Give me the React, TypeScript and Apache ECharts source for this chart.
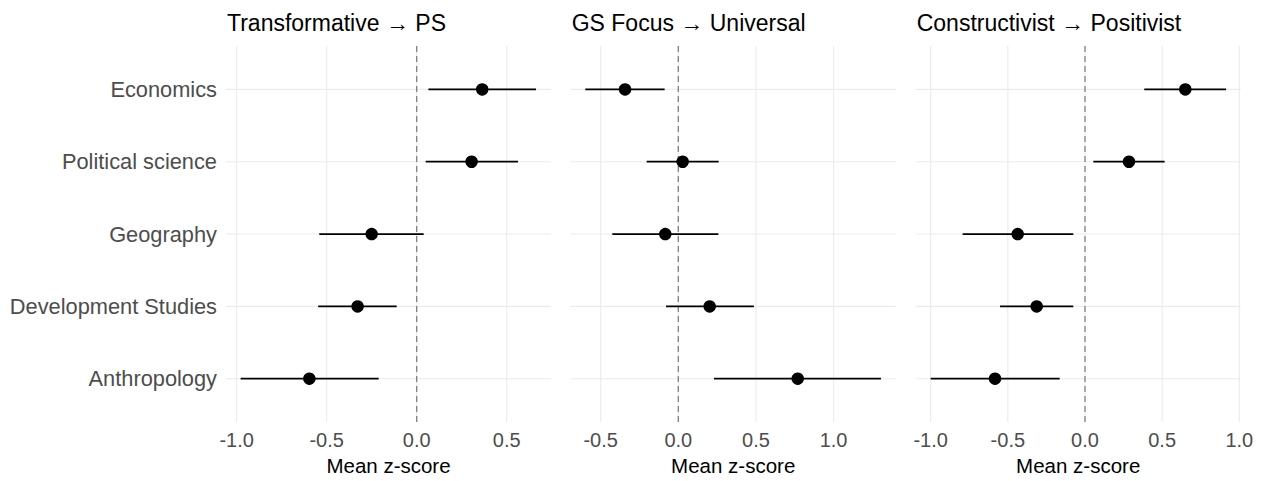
import React, { useEffect, useRef } from "react";
import * as echarts from "echarts";

const categories = ["Economics", "Political science", "Geography", "Development Studies", "Anthropology"];
const panelTitles = ["Transformative → PS", "GS Focus → Universal", "Constructivist → Positivist"];

const p1Mean = [0.364, 0.305, -0.25, -0.328, -0.596];
const p1Lo = [0.065, 0.05, -0.541, -0.547, -0.978];
const p1Hi = [0.663, 0.563, 0.039, -0.111, -0.211];

const p2Mean = [-0.343, 0.028, -0.084, 0.202, 0.769];
const p2Lo = [-0.599, -0.204, -0.425, -0.079, 0.23];
const p2Hi = [-0.088, 0.26, 0.258, 0.487, 1.305];

const p3Mean = [0.65, 0.285, -0.436, -0.313, -0.583];
const p3Lo = [0.384, 0.054, -0.793, -0.551, -1.0];
const p3Hi = [0.914, 0.516, -0.076, -0.076, -0.164];

const p1Ticks = [-1, -0.5, 0, 0.5];
const p2Ticks = [-0.5, 0, 0.5, 1];
const p3Ticks = [-1, -0.5, 0, 0.5, 1];

const xTitle = "Mean z-score";

const FONT = "Liberation Sans, Arial, Helvetica, sans-serif";

const panels = [
  { mean: p1Mean, lo: p1Lo, hi: p1Hi, ticks: p1Ticks, min: -1.059, max: 0.746, left: 226 },
  { mean: p2Mean, lo: p2Lo, hi: p2Hi, ticks: p2Ticks, min: -0.693, max: 1.4, left: 570.7 },
  { mean: p3Mean, lo: p3Lo, hi: p3Hi, ticks: p3Ticks, min: -1.097, max: 1.009, left: 915.7 },
];

export default function App() {
  const ref = useRef<HTMLDivElement>(null);
  useEffect(() => {
    if (!ref.current) return;
    const chart = echarts.init(ref.current, null, { renderer: "svg" });
    const grids: any[] = [];
    const xAxes: any[] = [];
    const yAxes: any[] = [];
    const series: any[] = [];
    const titles: any[] = [];
    const catIdx = categories.map((_, i) => i + 1);

    panels.forEach((p, k) => {
      grids.push({ left: p.left, width: 325, top: 46, height: 380 });
      titles.push({
        text: panelTitles[k],
        left: p.left + 1,
        top: 11,
        textStyle: { fontFamily: FONT, fontSize: 23, fontWeight: "normal", color: "#000" },
        padding: 0,
      });
      xAxes.push({
        type: "value",
        gridIndex: k,
        min: p.min,
        max: p.max,
        axisLine: { show: false },
        axisTick: { show: false },
        splitLine: { show: false },
        axisLabel: {
          customValues: p.ticks,
          formatter: (v: number) => v.toFixed(1),
          color: "#4d4d4d",
          fontFamily: FONT,
          fontSize: 20,
          margin: 8,
        },
        name: xTitle,
        nameLocation: "middle",
        nameGap: 31,
        nameTextStyle: { fontFamily: FONT, fontSize: 20.5, color: "#000" },
      });
      yAxes.push({
        type: "value",
        gridIndex: k,
        min: 0.4,
        max: 5.6,
        inverse: true,
        axisLine: { show: false },
        axisTick: { show: false },
        splitLine: { show: false },
        axisLabel: {
          show: k === 0,
          customValues: catIdx,
          formatter: (v: number) => (Number.isInteger(v) && v >= 1 && v <= categories.length ? categories[v - 1] : ""),
          color: "#4d4d4d",
          fontFamily: FONT,
          fontSize: 21.8,
          margin: 9,
        },
      });
      // vertical gridlines
      series.push({
        type: "custom",
        xAxisIndex: k,
        yAxisIndex: k,
        silent: true,
        z: 1,
        data: p.ticks.map((t) => [t, 1]),
        encode: { x: 0, y: 1 },
        renderItem: (params: any, api: any) => {
          const cs = params.coordSys;
          const x = api.coord([api.value(0), 1])[0];
          return {
            type: "line",
            shape: { x1: x, y1: cs.y, x2: x, y2: cs.y + cs.height },
            style: { stroke: "#ebebeb", lineWidth: 1.1 },
          };
        },
      });
      // horizontal gridlines
      series.push({
        type: "custom",
        xAxisIndex: k,
        yAxisIndex: k,
        silent: true,
        z: 1,
        data: catIdx.map((c) => [0, c]),
        encode: { x: 0, y: 1 },
        renderItem: (params: any, api: any) => {
          const cs = params.coordSys;
          const y = api.coord([0, api.value(1)])[1];
          return {
            type: "line",
            shape: { x1: cs.x, y1: y, x2: cs.x + cs.width, y2: y },
            style: { stroke: "#ebebeb", lineWidth: 1.1 },
          };
        },
      });
      // dashed zero line
      series.push({
        type: "custom",
        xAxisIndex: k,
        yAxisIndex: k,
        silent: true,
        z: 2,
        data: [[0, 1]],
        encode: { x: 0, y: 1 },
        renderItem: (params: any, api: any) => {
          const cs = params.coordSys;
          const x = api.coord([api.value(0), 1])[0];
          return {
            type: "line",
            shape: { x1: x, y1: cs.y, x2: x, y2: cs.y + cs.height },
            style: { stroke: "#808080", lineWidth: 1.3, lineDash: [6, 4] },
          };
        },
      });
      // error bars
      series.push({
        type: "custom",
        xAxisIndex: k,
        yAxisIndex: k,
        silent: true,
        z: 3,
        data: categories.map((_, i) => [p.lo[i], p.hi[i], i + 1]),
        encode: { x: [0, 1], y: 2 },
        renderItem: (params: any, api: any) => {
          const a = api.coord([api.value(0), api.value(2)]);
          const b = api.coord([api.value(1), api.value(2)]);
          return {
            type: "line",
            shape: { x1: a[0], y1: a[1], x2: b[0], y2: b[1] },
            style: { stroke: "#000", lineWidth: 1.7 },
          };
        },
      });
      // points
      series.push({
        type: "scatter",
        xAxisIndex: k,
        yAxisIndex: k,
        z: 4,
        symbol: "circle",
        symbolSize: 12.5,
        itemStyle: { color: "#000", opacity: 1 },
        data: categories.map((_, i) => [p.mean[i], i + 1]),
      });
    });

    chart.setOption({
      animation: false,
      backgroundColor: "#fff",
      title: titles,
      grid: grids,
      xAxis: xAxes,
      yAxis: yAxes,
      series,
    });
    return () => chart.dispose();
  }, []);
  return (
    <div
      ref={ref}
      style={{ position: "fixed", left: 0, top: 0, width: 1263, height: 481 }}
    />
  );
}
